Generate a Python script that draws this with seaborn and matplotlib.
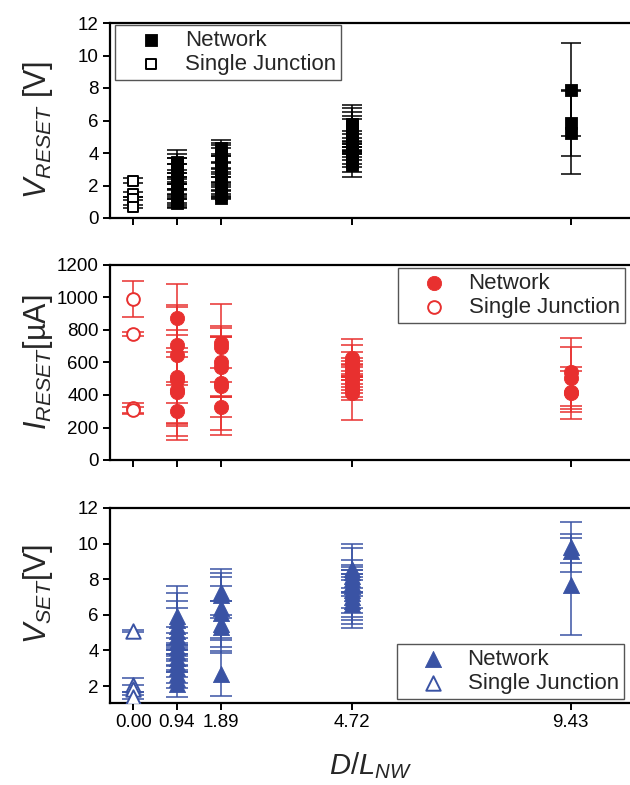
import numpy as np
import pandas as pd
import matplotlib
matplotlib.use("Agg")
import matplotlib.pyplot as plt
from matplotlib import font_manager as fm
import seaborn as sns

# ---------------- data ----------------
net_x = [0.94, 1.89, 4.72, 9.43]
sj_x = 0.0
tick_pos = [0.0, 0.94, 1.89, 4.72, 9.43]
tick_labels = ["0.00", "0.94", "1.89", "4.72", "9.43"]

# V_RESET [V]
vreset_sj = [2.3, 1.45, 1.2, 0.7]
vreset_sj_err = [0.15, 0.15, 0.12, 0.1]
vreset_net = [
    [0.9, 1.1, 1.3, 1.5, 1.7, 1.9, 2.1, 2.3, 2.5, 2.7, 2.9, 3.1, 3.3, 3.45],
    [1.25, 1.5, 1.75, 2.0, 2.25, 2.5, 2.75, 3.0, 3.25, 3.5, 3.75, 4.0, 4.3],
    [3.25, 3.45, 3.65, 3.85, 4.05, 4.25, 4.45, 4.65, 4.85, 5.05, 5.25, 5.45, 5.65, 5.8],
    [7.9, 5.85, 5.25],
]
vreset_net_err = [
    [0.3, 0.4, 0.5, 0.6, 0.5, 0.6, 0.7, 0.5, 0.8, 0.6, 0.8, 0.6, 0.9, 0.5],
    [0.05, 0.25, 0.4, 0.5, 0.6, 0.6, 0.7, 0.8, 0.7, 0.8, 0.75, 0.6, 0.5],
    [0.7, 0.6, 0.5, 0.5, 0.5, 0.5, 0.5, 0.5, 0.5, 1.05, 1.05, 1.05, 1.1, 1.15],
    [2.85, 2.05, 2.55],
]

# I_RESET [uA]
ireset_sj = [990, 775, 320, 305]
ireset_sj_err = [110, 15, 30, 20]
ireset_net = [
    [874, 708, 646, 511, 490, 430, 418, 302],
    [720, 695, 603, 572, 474, 455, 326],
    [630, 610, 590, 570, 550, 530, 510, 490, 470, 450, 430, 415],
    [541, 505, 420, 412],
]
ireset_net_err = [
    [209, 246, 296, 289, 280, 202, 270, 179],
    [240, 130, 209, 185, 289, 301, 61],
    [115, 98, 75, 60, 60, 60, 60, 60, 60, 60, 60, 169],
    [209, 190, 125, 160],
]

# V_SET [V]
vset_sj = [5.1, 2.05, 1.85, 1.4]
vset_sj_err = [0.05, 0.4, 0.2, 0.1]
vset_net = [
    [2.1, 2.4, 2.7, 3.0, 3.3, 3.6, 3.9, 4.2, 4.5, 4.8, 5.1, 5.4, 5.7, 5.95],
    [7.3, 7.1, 6.4, 6.1, 5.5, 5.3, 2.7],
    [6.6, 6.8, 7.0, 7.2, 7.4, 7.6, 7.8, 8.0, 8.2, 8.4, 8.6],
    [9.8, 9.6, 7.7],
]
vset_net_err = [
    [0.7, 0.5, 0.5, 0.5, 0.5, 0.5, 0.5, 0.5, 0.5, 0.5, 1.3, 1.4, 1.5, 1.65],
    [1.3, 1.25, 1.7, 1.5, 1.3, 1.45, 1.25],
    [1.35, 1.3, 1.3, 1.3, 1.3, 1.2, 0.5, 0.5, 0.9, 1.35, 1.4],
    [1.4, 0.7, 2.85],
]

# ---------------- style ----------------
sns.set_theme(style="ticks")
plt.rcParams["font.family"] = ["Liberation Sans", "DejaVu Sans"]
names = {f.name for f in fm.fontManager.ttflist}
narrow = "Liberation Sans Narrow" if "Liberation Sans Narrow" in names else "Liberation Sans"
plt.rcParams["mathtext.fontset"] = "custom"
plt.rcParams["mathtext.rm"] = "Liberation Sans"
plt.rcParams["mathtext.it"] = "Liberation Sans:italic"
plt.rcParams["mathtext.bf"] = "Liberation Sans:bold"
plt.rcParams["mathtext.sf"] = narrow + ":italic"

RED = "#E8302F"
BLUE = "#3A53A4"
BLACK = "#000000"

fig = plt.figure(figsize=(6.3, 7.85), dpi=100)
FW, FH = 630.0, 785.0
left_px = 110
xmin, xmax = -0.5, 11.0
px_per_unit = 46.4
width_px = (xmax - xmin) * px_per_unit


def make_ax(top_px, bottom_px):
    return fig.add_axes([left_px / FW, 1 - bottom_px / FH, width_px / FW, (bottom_px - top_px) / FH])


ax1 = make_ax(23, 218)
ax2 = make_ax(265, 460)
ax3 = make_ax(508, 703)


def to_frame(xs, groups):
    rows = []
    for xv, vals in zip(xs, groups):
        for v in vals:
            rows.append((xv, v))
    return pd.DataFrame(rows, columns=["x", "y"])


def panel(ax, net, net_err, sj, sj_err, color, marker, size, cap):
    dfn = to_frame(net_x, net)
    en = [e for grp in net_err for e in grp]
    dfs = pd.DataFrame({"x": [sj_x] * len(sj), "y": sj})
    ax.errorbar(dfn["x"], dfn["y"], yerr=en, fmt="none", ecolor=color,
                elinewidth=1.1, capsize=cap, capthick=1.1, zorder=2)
    ax.errorbar(dfs["x"], dfs["y"], yerr=sj_err, fmt="none", ecolor=color,
                elinewidth=1.1, capsize=cap, capthick=1.1, zorder=2)
    sns.scatterplot(data=dfn, x="x", y="y", ax=ax, marker=marker, s=size,
                    color=color, edgecolor=color, linewidth=0.6, zorder=3,
                    label="Network")
    sns.scatterplot(data=dfs, x="x", y="y", ax=ax, marker=marker, s=size * 0.8,
                    facecolor="white", edgecolor=color, linewidth=1.4, zorder=3,
                    label="Single Junction")


panel(ax1, vreset_net, vreset_net_err, vreset_sj, vreset_sj_err, BLACK, "s", 75, 7.5)
panel(ax2, ireset_net, ireset_net_err, ireset_sj, ireset_sj_err, RED, "o", 105, 8)
panel(ax3, vset_net, vset_net_err, vset_sj, vset_sj_err, BLUE, "^", 135, 8)

ax1.set_ylim(0, 12)
ax1.set_yticks([0, 2, 4, 6, 8, 10, 12])
ax2.set_ylim(0, 1200)
ax2.set_yticks([0, 200, 400, 600, 800, 1000, 1200])
ax3.set_ylim(1.05, 12)
ax3.set_yticks([2, 4, 6, 8, 10, 12])

for ax in (ax1, ax2, ax3):
    ax.set_xlim(xmin, xmax)
    ax.set_xticks(tick_pos)
    ax.set_xticklabels(tick_labels)
    ax.tick_params(direction="out", length=5, width=1.4, labelsize=13.5,
                   colors="black", pad=3, top=False, right=False)
    for sp in ax.spines.values():
        sp.set_linewidth(1.6)
        sp.set_color("black")
    ax.set_xlabel("")
for ax in (ax1, ax2):
    ax.tick_params(labelbottom=False)

ax1.set_ylabel(r"$\mathsf{V_{RESET}}$ [V]", family=narrow, fontsize=22)
ax2.set_ylabel(r"$\mathsf{I_{RESET}}$[µA]", family=narrow, fontsize=22)
ax3.set_ylabel(r"$\mathsf{V_{SET}}$[V]", family=narrow, fontsize=22)
ax1.yaxis.set_label_coords(-0.103, 0.45)
ax2.yaxis.set_label_coords(-0.103, 0.5)
ax3.yaxis.set_label_coords(-0.103, 0.56)

ax3.set_xlabel(r"$D/L_{NW}$", fontsize=21)
ax3.xaxis.set_label_coords((370 - left_px) / width_px, -0.24)

leg_kw = dict(frameon=True, fancybox=False, edgecolor="#555555", framealpha=1,
              fontsize=16, borderpad=0.22, labelspacing=0.15,
              handlelength=2.8, handletextpad=0.15, borderaxespad=0)
l1 = ax1.legend(loc="upper left", bbox_to_anchor=(0.009, 0.99), **leg_kw)
l2 = ax2.legend(loc="upper left", bbox_to_anchor=(0.54, 0.985), **leg_kw)
l3 = ax3.legend(loc="lower left", bbox_to_anchor=(0.538, 0.02), **leg_kw)
for lg in (l1, l2, l3):
    lg.get_frame().set_linewidth(1.0)
    lg.set_zorder(5)

fig.savefig("out.png", dpi=100)
